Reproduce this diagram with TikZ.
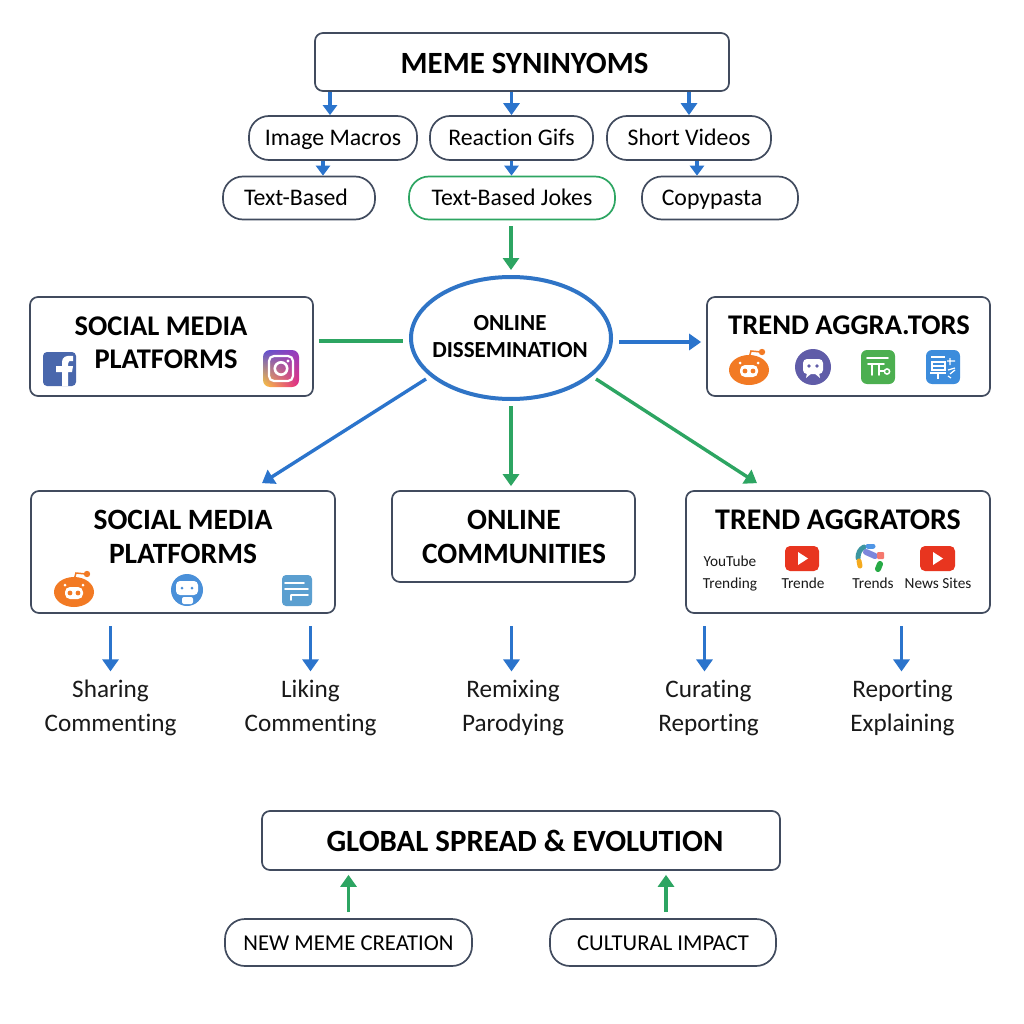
\documentclass[tikz,border=0pt]{standalone}
\usepackage{fontspec}
\setmainfont{Carlito}[Ligatures=NoCommon]
\usetikzlibrary{arrows.meta,shapes.geometric,shadings}
\definecolor{edgeC}{HTML}{414B5E}
\definecolor{blueA}{HTML}{2B74CC}
\definecolor{greenA}{HTML}{2DA562}
\definecolor{ellC}{HTML}{2F74C6}
\definecolor{redd}{HTML}{F27A24}
\definecolor{ytred}{HTML}{E8351F}
\definecolor{fbC}{RGB}{73,103,172}
\definecolor{igA}{RGB}{92,80,210}
\definecolor{igB}{RGB}{150,60,190}
\definecolor{igC}{RGB}{255,200,60}
\definecolor{igD}{RGB}{230,40,130}
\definecolor{purC}{RGB}{96,92,168}
\definecolor{grC}{RGB}{76,175,80}
\definecolor{blC}{RGB}{60,140,220}
\definecolor{bl2}{RGB}{74,144,217}
\definecolor{bl3}{RGB}{91,159,208}
\definecolor{gA}{RGB}{60,150,160}
\definecolor{gB}{RGB}{80,150,230}
\definecolor{gC}{RGB}{245,170,30}
\definecolor{gD}{RGB}{125,135,220}
\definecolor{gE}{RGB}{245,120,110}
\definecolor{gF}{RGB}{40,170,70}
\tikzset{
 x=1pt,y=-1pt,
 boxn/.style={draw=edgeC,line width=1.7pt,rounded corners=8pt,fill=white,inner sep=0pt},
 pill/.style={draw=edgeC,line width=1.7pt,rounded corners=20pt,fill=white,inner sep=0pt,font=\fontsize{23.8}{28}\selectfont,text height=18.5pt,text depth=2.5pt},
 cappill/.style={pill,font=\fontsize{22.7}{28}\selectfont,text height=18pt,text depth=3pt},
 gpill/.style={pill,draw=greenA},
 head/.style={font=\bfseries\fontsize{29.5}{34}\selectfont,align=center,inner sep=0pt,text=black},
 headS/.style={head,font=\bfseries\fontsize{28.5}{33}\selectfont},
 headL/.style={head,font=\bfseries\fontsize{30.9}{34}\selectfont},
 lab/.style={font=\fontsize{25.2}{34}\selectfont,align=center,inner sep=0pt,text=black!90},
 tiny/.style={font=\fontsize{15.3}{22}\selectfont,align=center,inner sep=0pt,text=black!90},
 barrow/.style={-{Triangle[width=16pt,length=12pt]},line width=3.4pt,draw=blueA,fill=blueA},
 sbarrow/.style={-{Triangle[width=14pt,length=10pt]},line width=3.4pt,draw=blueA,fill=blueA},
 garrow/.style={-{Triangle[width=16pt,length=12pt]},line width=3.4pt,draw=greenA,fill=greenA},
 wl/.style={draw=white,line width=1.6pt,line cap=round},
}
\newcommand{\redditicon}[2]{%
 \begin{scope}[shift={(#1,#2)}]
  \draw[redd,line width=1.5pt] (0,-12)--(2,-19)--(12,-18);
  \fill[redd] (13,-18) circle (3.2);
  \fill[redd] (0,0) ellipse [x radius=20,y radius=15];
  \fill[white] (-9,-7) circle (1.5) (9,-7) circle (1.5);
  \fill[white,rounded corners=5pt] (-9,-5) rectangle (9,7);
  \fill[redd] (-4,1) circle (2.4) (4,1) circle (2.4);
 \end{scope}}
\begin{document}
\begin{tikzpicture}
\useasboundingbox (0,0) rectangle (1024,1024);
\fill[white] (0,0) rectangle (1024,1024);
% top
\node[boxn,minimum width=414pt,minimum height=58pt] (title) at (522,62) {};
\node[headL] (titlet) at (524.5,63) {MEME SYNINYOMS};
\node[pill,minimum width=168pt,minimum height=44pt] (img) at (333,138) {Image Macros};
\node[pill,minimum width=163pt,minimum height=44pt] (gif) at (511.5,138) {Reaction Gifs};
\node[pill,minimum width=164pt,minimum height=44pt] (vid) at (689,138) {Short Videos};
\node[pill,minimum width=152pt,minimum height=43pt] (tb) at (299,198) {};
\node[pill,draw=none,fill=none] (tbt) at (296,198) {Text-Based};
\node[gpill,minimum width=206pt,minimum height=43pt] (jokes) at (512,198) {Text-Based Jokes};
\node[pill,minimum width=156pt,minimum height=43pt] (copy) at (720,198) {};
\node[pill,draw=none,fill=none] (copyt) at (712,198) {Copypasta};
\draw[sbarrow] ([xshift=-3pt]title.south -| img) -- ([xshift=-3pt]img.north);
\draw[barrow] (title.south -| gif) -- (gif.north);
\draw[barrow] (title.south -| vid) -- (vid.north);
\draw[sbarrow] ([xshift=-10pt]img.south) -- ([xshift=-10pt]img.south |- tb.north);
\draw[sbarrow] (gif.south) -- (gif.south |- jokes.north);
\draw[sbarrow] ([xshift=8pt]vid.south) -- ([xshift=8pt]vid.south |- copy.north);
% middle
\node[ellipse,draw=ellC,line width=4pt,fill=white,minimum width=200pt,minimum height=122pt,inner sep=0pt] (ell) at (511,338) {};
\node[font=\bfseries\fontsize{23}{27}\selectfont,align=center,inner sep=0pt] (ellt) at (510,337) {ONLINE\\DISSEMINATION};
\node[boxn,minimum width=283pt,minimum height=99pt] (soc) at (171.5,346.5) {};
\node[headS] (soct) at (161,342.5) {SOCIAL MEDIA\\\hspace*{10pt}PLATFORMS};
\node[boxn,minimum width=283pt,minimum height=99pt] (agg) at (848.5,346.5) {};
\node[headS] (aggt) at (849,325) {TREND AGGRA.TORS};
\draw[garrow] ([shift={(-1,6)}]jokes.south) -- ([shift={(0,-5)}]ell.north);
\draw[line width=3.4pt,draw=greenA] ([shift={(5,-5.5)}]soc.east) -- ([shift={(-6,3)}]ell.west);
\draw[barrow] ([shift={(6,4)}]ell.east) -- ([shift={(-5,-4.5)}]agg.west);
% lower boxes
\node[boxn,minimum width=304pt,minimum height=122pt] (lsoc) at (183,552) {};
\node[head] (lsoct) at (183,536.5) {SOCIAL MEDIA\\PLATFORMS};
\node[boxn,minimum width=243pt,minimum height=91pt] (comm) at (513.5,536.5) {};
\node[head] (commt) at (514,536.5) {ONLINE\\COMMUNITIES};
\node[boxn,minimum width=304pt,minimum height=122pt] (ragg) at (838,552) {};
\node[head,font=\bfseries\fontsize{30}{34}\selectfont] (raggt) at (838,520) {TREND AGGRATORS};
\draw[barrow] ([shift={(-85,41)}]ell.center) -- ([shift={(79,-7)}]lsoc.north);
\draw[garrow] ([shift={(0,5)}]ell.south) -- ([shift={(-2.5,-4)}]comm.north);
\draw[garrow] ([shift={(85,41)}]ell.center) -- ([shift={(-81,-7)}]ragg.north);
% activity labels
\node[lab] (l1) at (110.5,707.5) {Sharing\\Commenting};
\node[lab] (l2) at (310.5,707.5) {Liking\\Commenting};
\node[lab] (l3) at (513,707.5) {Remixing\\Parodying};
\node[lab] (l4) at (708.5,707.5) {Curating\\Reporting};
\node[lab] (l5) at (902.5,707.5) {Reporting\\Explaining};
\coordinate (s1) at (110.5,626);
\coordinate (s2) at (310.5,626);
\coordinate (s3) at (511.5,626);
\coordinate (s4) at (704.5,626);
\coordinate (s5) at (901.5,626);
\draw[barrow] (s1) -- ([shift={(0,-8)}]s1 |- l1.north);
\draw[barrow] (s2) -- ([shift={(0,-8)}]s2 |- l2.north);
\draw[barrow] (s3) -- ([shift={(0,-8)}]s3 |- l3.north);
\draw[barrow] (s4) -- ([shift={(0,-8)}]s4 |- l4.north);
\draw[barrow] (s5) -- ([shift={(0,-8)}]s5 |- l5.north);
% bottom
\node[boxn,minimum width=518pt,minimum height=59pt] (glob) at (521,840.5) {};
\node[headL] (globt) at (525,841) {GLOBAL SPREAD \& EVOLUTION};
\node[cappill,minimum width=247pt,minimum height=47pt] (newm) at (348.5,942.5) {NEW MEME CREATION};
\node[cappill,minimum width=226pt,minimum height=47pt] (cult) at (663,942.5) {CULTURAL IMPACT};
\draw[garrow] ([shift={(0,-6)}]newm.north) -- ([shift={(0,4)}]newm.north |- glob.south);
\draw[garrow] ([shift={(3,-6)}]cult.north) -- ([shift={(3,4)}]cult.north |- glob.south);
% facebook icon
\fill[fbC,rounded corners=4pt] (43,352) rectangle (76,386);
\fill[white] (62,386) -- (62,372) -- (56,372) -- (56,366) -- (62,366) -- (62,362) .. controls (62,357) and (66,355) .. (73,356) -- (73,361) .. controls (69,361) and (68,361) .. (68,364) -- (68,366) -- (73,366) -- (72,372) -- (68,372) -- (68,386) -- cycle;
% instagram icon
\shade[rounded corners=7pt,upper left=igA,upper right=igB,lower left=igC,lower right=igD] (263,350) rectangle (299,387);
\draw[white,line width=2.2pt,rounded corners=5pt] (269,356) rectangle (293,381);
\draw[white,line width=2.6pt] (281,368.5) circle (6.2);
\fill[white] (288,361) circle (1.7);
% upper right icons
\redditicon{749}{370}
\fill[purC] (813,367) circle (18);
\fill[white,rounded corners=4pt] (803,359) rectangle (823,374);
\fill[white] (807,373) -- (806,378) -- (812,373) -- cycle (819,373) -- (820,378) -- (814,373) -- cycle;
\fill[purC] (809,366) circle (1.8) (817,366) circle (1.8);
\fill[grC,rounded corners=6pt] (861,350) rectangle (895,384);
\draw[wl] (867,358) -- (888,358) (868,364) -- (884,364) (872,364) -- (872,375) (879,364) -- (879,375) (879,371) -- (884,371);
\draw[white,line width=1.5pt] (887,371.5) circle (2.6);
\fill[blC,rounded corners=6pt] (926,350) rectangle (960,384);
\draw[white,line width=1.2pt] (931,357) -- (945,357) (932,362) rectangle (945,370) (932,366) -- (945,366) (930,373) -- (946,373) (938,373) -- (938,379);
\draw[white,line width=1.2pt] (950,358) -- (950,365) (947,361) -- (955,361) (948,370) -- (955,368) (950,374) -- (955,370) (948,376) -- (951,378);
% lower-left icons
\redditicon{74}{592}
\fill[bl2] (187,590) circle (16);
\fill[white,rounded corners=4pt] (176,581) rectangle (198,595);
\fill[white,rounded corners=2pt] (182,597) rectangle (193,604);
\fill[bl2] (182,588) circle (1.5) (192,588) circle (1.5);
\fill[bl3,rounded corners=4pt] (282,575) rectangle (312,606);
\draw[wl] (285,583) -- (304,583) (285,589) -- (308,589) (291,595) -- (308,595) (291,595) -- (291,600);
% lower-right content
\node[tiny] (yt) at (730,573) {YouTube\\Trending};
\node[tiny] (tr1) at (803,583.5) {Trende};
\node[tiny] (tr2) at (873,583.5) {Trends};
\node[tiny] (tr3) at (938,583.5) {News Sites};
\fill[ytred,rounded corners=5pt] (785,546) rectangle (819,571);
\fill[white] (798,552) -- (808,558.5) -- (798,565) -- cycle;
\fill[ytred,rounded corners=5pt] (920,546) rectangle (955,571);
\fill[white] (933,552) -- (943,558.5) -- (933,565) -- cycle;
\draw[gA,line width=5pt,line cap=round] (858,558) .. controls (858,553) and (860,549) .. (864,547);
\draw[gB,line width=5pt,line cap=round] (868,546) -- (873,546);
\draw[gC,line width=5pt,line cap=round] (859,561) -- (860,566);
\draw[gD,line width=6pt,line cap=round] (866,552) -- (875,556);
\fill[gE,rounded corners=1pt] (877,552) rectangle (884,559);
\draw[gF,line width=6pt,line cap=round] (880,564) -- (878,569);
\end{tikzpicture}
\end{document}
